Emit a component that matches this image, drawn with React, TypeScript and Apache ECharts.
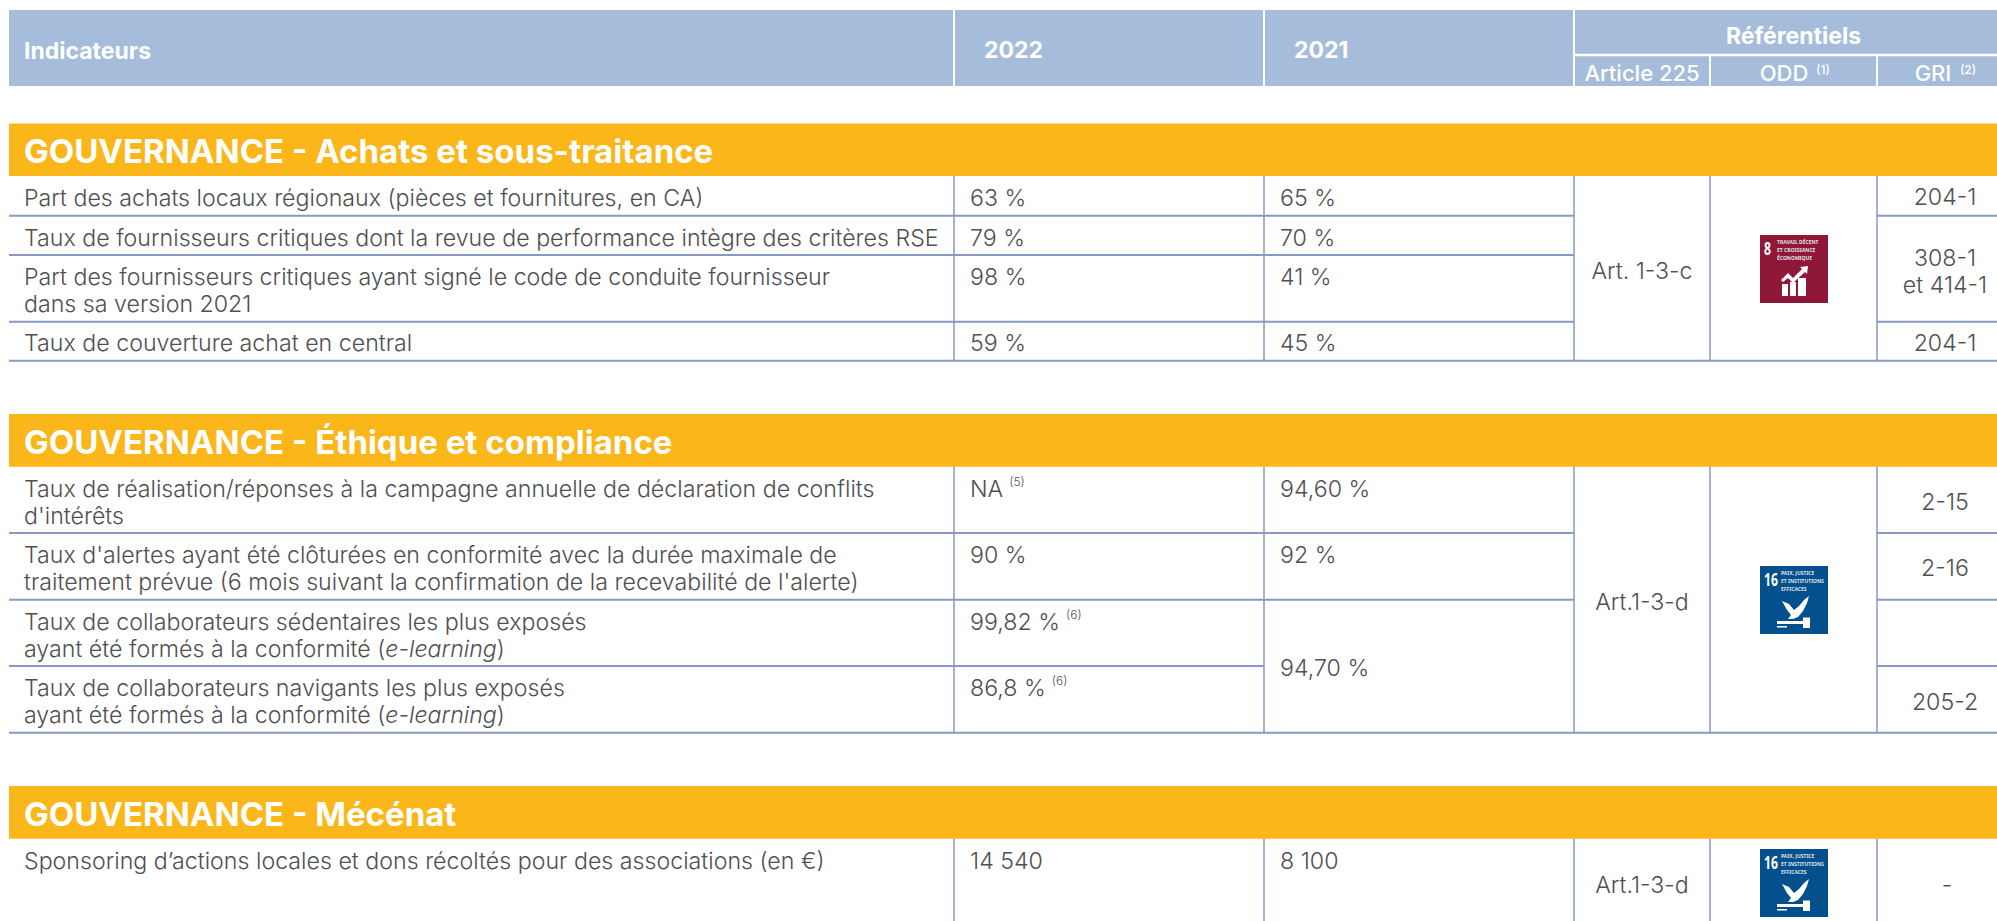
import React, { useEffect, useRef } from "react";
import * as echarts from "echarts";

// ---------- data ----------
const headerLabels = ["Indicateurs", "2022", "2021", "Référentiels", "Article 225", "ODD", "GRI"];
const headerNotes = ["(1)", "(2)"];
const sectionTitles = [
  "GOUVERNANCE - Achats et sous-traitance",
  "GOUVERNANCE - Éthique et compliance",
  "GOUVERNANCE - Mécénat",
];
const achatsIndicators = [
  "Part des achats locaux régionaux (pièces et fournitures, en CA)",
  "Taux de fournisseurs critiques dont la revue de performance intègre des critères RSE",
  "Part des fournisseurs critiques ayant signé le code de conduite fournisseur\ndans sa version 2021",
  "Taux de couverture achat en central",
];
const achats2022 = ["63 %", "79 %", "98 %", "59 %"];
const achats2021 = ["65 %", "70 %", "41 %", "45 %"];
const achatsGri = ["204-1", "308-1\net 414-1", "204-1"];
const ethiqueIndicators = [
  "Taux de réalisation/réponses à la campagne annuelle de déclaration de conflits\nd'intérêts",
  "Taux d'alertes ayant été clôturées en conformité avec la durée maximale de\ntraitement prévue (6 mois suivant la confirmation de la recevabilité de l'alerte)",
  "Taux de collaborateurs sédentaires les plus exposés\nayant été formés à la conformité ({i|e-learning})",
  "Taux de collaborateurs navigants les plus exposés\nayant été formés à la conformité ({i|e-learning})",
];
const ethique2022 = ["NA{s|(5)}", "90 %", "99,82 %{s|(6)}", "86,8 %{s|(6)}"];
const ethique2021 = ["94,60 %", "92 %", "94,70 %"];
const ethiqueGri = ["2-15", "2-16", "205-2"];
const mecenatIndicators = ["Sponsoring d’actions locales et dons récoltés pour des associations (en €)"];
const mecenat2022 = ["14 540"];
const mecenat2021 = ["8 100"];
const mecenatGri = ["-"];
const articleRefs = ["Art. 1-3-c", "Art.1-3-d", "Art.1-3-d"];
const logo8Lines = ["TRAVAIL DÉCENT", "ET CROISSANCE", "ÉCONOMIQUE"];
const logo16Lines = ["PAIX, JUSTICE", "ET INSTITUTIONS", "EFFICACES"];

// ---------- layout ----------
const FONT = "Inter";
const TEXT = "#505052";
const BLUE = "#a5bddb";
const ORANGE = "#fbb619";
const LINE = "#8799c4";
const L = 9, R = 1997;
const C = [954, 1264, 1574, 1710, 1877];
const TX = 24, V22 = 970, V21 = 1280;
const CA = 1642, CO = 1793.5, CG = 1945;
const FS = 23.2;

echarts.graphic.registerShape(
  "chartIcon",
  echarts.graphic.extendPath(
    "M22 49h6v12h-6zM30 47h6v14h-6zM38 43h8v18h-8zM21 45L28 38L33 43L42 34L40 32L48 31L47 39L45 37L33 48L28 43L23 47Z",
    {}
  )
);
echarts.graphic.registerShape(
  "doveIcon",
  echarts.graphic.extendPath(
    "M22 35L29 38L34 44L39 40L44 34L49 30L47 37L43 45L38 51L33 53L28 53L31 49L27 44ZM17 55h26v-3.5h7v10.5h-7v-4h-26zM17 60h10v1.5h-10z",
    {}
  )
);

const rich = {
  i: { fontFamily: FONT, fontSize: FS, fontWeight: 300, fontStyle: "italic", fill: TEXT, lineHeight: 27 },
  s: { fontFamily: FONT, fontSize: 12, fontWeight: 300, fill: TEXT, lineHeight: 27, verticalAlign: "top", padding: [0, 0, 0, 6] },
};

function txt(text: string, x: number, y: number, o: any = {}) {
  return {
    type: "text",
    x,
    y,
    silent: true,
    style: {
      text,
      fontFamily: FONT,
      fontSize: FS,
      fontWeight: 300,
      fill: TEXT,
      lineHeight: 27,
      align: "left",
      verticalAlign: "middle",
      rich,
      ...o,
    },
  };
}
function box(x: number, y: number, w: number, h: number, fill: string) {
  return { type: "rect", silent: true, shape: { x, y, width: w, height: h }, style: { fill } };
}
function hline(x1: number, x2: number, y: number, w = 2, color = LINE) {
  return { type: "rect", silent: true, shape: { x: x1, y: y - w / 2, width: x2 - x1, height: w }, style: { fill: color } };
}
function vline(x: number, y1: number, y2: number, w = 1.5, color = LINE) {
  return { type: "rect", silent: true, shape: { x: x - w / 2, y: y1, width: w, height: y2 - y1 }, style: { fill: color } };
}
function logo(x: number, y: number, kind: 8 | 16) {
  const fill = kind === 8 ? "#8f1838" : "#03508c";
  const lines = kind === 8 ? logo8Lines : logo16Lines;
  const els: any[] = [box(x, y, 68, 68, fill)];
  els.push({
    type: "text",
    x: x + 4,
    y: y + 13,
    scaleX: 0.72,
    silent: true,
    style: { text: String(kind), fontFamily: "Noto Sans", fontWeight: 700, fontSize: 17, fill: "#fff", verticalAlign: "middle" },
  });
  lines.forEach((t, i) => {
    els.push({
      type: "text",
      x: x + (kind === 8 ? 17 : 21),
      y: y + 7 + i * 8,
      silent: true,
      style: { text: t, fontFamily: "Noto Sans", fontWeight: 700, fontSize: 5, fill: "#dfe0e8", verticalAlign: "middle" },
    });
  });
  els.push({ type: kind === 8 ? "chartIcon" : "doveIcon", x, y, silent: true, style: { fill: "#fff" } });
  return els;
}

function buildElements() {
  const e: any[] = [];
  // table header
  e.push(box(L, 10, R - L, 76, BLUE));
  [C[0], C[1], C[2]].forEach((x) => e.push(vline(x, 10, 86, 2, "#fff")));
  e.push(hline(C[2], R, 55, 2.5, "#fff"));
  [C[3], C[4]].forEach((x) => e.push(vline(x, 56, 86, 2, "#fff")));
  const hs = { fill: "#fff", fontWeight: 700, fontSize: 23 };
  e.push(txt(headerLabels[0], TX, 50.5, hs));
  e.push(txt(headerLabels[1], 984, 50, hs));
  e.push(txt(headerLabels[2], 1294, 50, hs));
  e.push(txt(headerLabels[3], CO, 36, { ...hs, align: "center" }));
  const hs2 = { fill: "#fff", fontWeight: 500, fontSize: 22 };
  e.push(txt(headerLabels[4], CA, 73, { ...hs2, align: "center" }));
  e.push(txt(headerLabels[5], 1784, 73, { ...hs2, align: "center" }));
  e.push(txt(headerNotes[0], 1823, 69, { ...hs2, fontSize: 12, align: "center" }));
  e.push(txt(headerLabels[6], 1933, 73, { ...hs2, align: "center" }));
  e.push(txt(headerNotes[1], 1968, 69, { ...hs2, fontSize: 12, align: "center" }));

  // section bands
  const bands = [[123.5, 176], [414, 466.7], [786, 838.7]];
  bands.forEach((b, i) => {
    e.push(box(L, b[0], R - L, b[1] - b[0], ORANGE));
    e.push(txt(sectionTitles[i], TX, (b[0] + b[1]) / 2 + 1.5, { fill: "#fff", fontWeight: 700, fontSize: 33 }));
  });

  // section 1
  const s1 = [176, 215.7, 255, 321.7, 360.7];
  const s1Text = [198, 238, 290.5, 343];
  C.forEach((x) => e.push(vline(x, s1[0], s1[4])));
  [1, 2, 3].forEach((i) => {
    e.push(hline(L, C[2], s1[i]));
  });
  e.push(hline(L, R, s1[4]));
  [1, 3].forEach((i) => e.push(hline(C[4], R, s1[i])));
  achatsIndicators.forEach((t, i) => {
    e.push(txt(t, TX, s1Text[i]));
    const vy = i === 2 ? 277 : s1Text[i];
    e.push(txt(achats2022[i], V22, vy));
    e.push(txt(achats2021[i], V21, vy));
  });
  e.push(txt(articleRefs[0], CA, 271, { align: "center" }));
  e.push(...logo(1760, 235, 8));
  e.push(txt(achatsGri[0], CG, 197, { align: "center" }));
  e.push(txt(achatsGri[1], CG, 271, { align: "center" }));
  e.push(txt(achatsGri[2], CG, 343, { align: "center" }));

  // section 2
  const s2 = [466.7, 533, 599.7, 666, 732.7];
  const s2Text = [502.5, 568.5, 635.5, 701.5];
  const s2First = [489, 555, 622, 688];
  C.forEach((x) => e.push(vline(x, s2[0], s2[4])));
  e.push(hline(L, C[2], s2[1]));
  e.push(hline(L, C[2], s2[2]));
  e.push(hline(L, C[1], s2[3]));
  e.push(hline(L, R, s2[4]));
  [1, 2, 3].forEach((i) => e.push(hline(C[4], R, s2[i])));
  ethiqueIndicators.forEach((t, i) => {
    e.push(txt(t, TX, s2Text[i]));
    e.push(txt(ethique2022[i], V22, s2First[i]));
  });
  e.push(txt(ethique2021[0], V21, 489));
  e.push(txt(ethique2021[1], V21, 555));
  e.push(txt(ethique2021[2], V21, 668));
  e.push(txt(articleRefs[1], CA, 601.7, { align: "center" }));
  e.push(...logo(1760, 566, 16));
  e.push(txt(ethiqueGri[0], CG, 501.7, { align: "center" }));
  e.push(txt(ethiqueGri[1], CG, 568, { align: "center" }));
  e.push(txt(ethiqueGri[2], CG, 701.7, { align: "center" }));

  // section 3
  C.forEach((x) => e.push(vline(x, 838.7, 921)));
  e.push(txt(mecenatIndicators[0], TX, 861));
  e.push(txt(mecenat2022[0], V22, 861));
  e.push(txt(mecenat2021[0], V21, 861));
  e.push(txt(articleRefs[2], CA, 885, { align: "center" }));
  e.push(...logo(1760, 849, 16));
  e.push(txt(mecenatGri[0], 1947, 885, { align: "center" }));
  return e;
}

export default function App() {
  const ref = useRef<HTMLDivElement>(null);
  useEffect(() => {
    const chart = echarts.init(ref.current!, null, { renderer: "svg" });
    chart.setOption({
      animation: false,
      backgroundColor: "#ffffff",
      graphic: { elements: buildElements() },
    });
    return () => chart.dispose();
  }, []);
  return <div ref={ref} style={{ position: "fixed", left: 0, top: 0, width: 1997, height: 921 }} />;
}
